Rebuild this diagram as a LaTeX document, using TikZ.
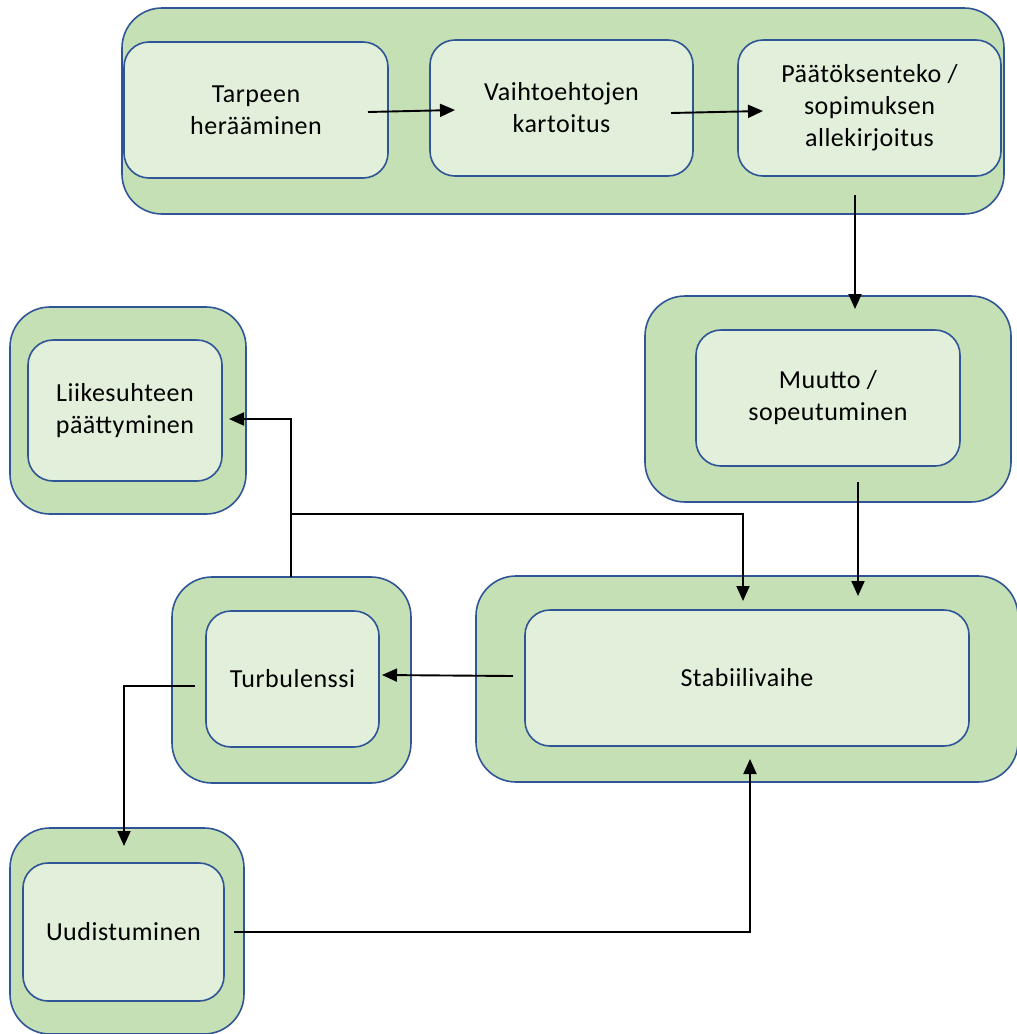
\documentclass[tikz,border=0pt]{standalone}
\usepackage{fontspec}
\setmainfont{Carlito}[LetterSpace=2]
\usetikzlibrary{arrows.meta}
\definecolor{outerfill}{HTML}{C5E0B4}
\definecolor{innerfill}{HTML}{E2EFDA}
\definecolor{edge}{HTML}{2F5597}
\begin{document}
\begin{tikzpicture}[x=1pt,y=-1pt,
  outerbox/.style={draw=edge, fill=outerfill, line width=1.6pt, rounded corners=40pt, inner sep=0pt},
  innerbox/.style={draw=edge, fill=innerfill, line width=1.6pt, rounded corners=25pt, inner sep=0pt, align=center, font=\fontsize{26}{32}\selectfont},
  conn/.style={line width=1.9pt, -{Triangle[length=15pt,width=13pt]}}]
\useasboundingbox (0,0) rectangle (1017,1034);
% top group
\node[outerbox, minimum width=882pt, minimum height=206pt] (top) at (563,111) {};
\node[innerbox, minimum width=264pt, minimum height=136pt] (tarve) at (256,110) {Tarpeen\\herääminen};
\node[innerbox, minimum width=263pt, minimum height=136pt] (vaiht) at (561.5,108) {Vaihtoehtojen\\kartoitus};
\node[innerbox, minimum width=263pt, minimum height=136pt] (paat) at (869.5,108) {Päätöksenteko /\\sopimuksen\\allekirjoitus};
% muutto
\node[outerbox, minimum width=366pt, minimum height=206pt] (muuttoO) at (828,399) {};
\node[innerbox, minimum width=264pt, minimum height=136pt] (muutto) at (828,398) {Muutto /\\sopeutuminen};
% liikesuhteen
\node[outerbox, minimum width=236pt, minimum height=207pt] (liikeO) at (128,410.5) {};
\node[innerbox, minimum width=194pt, minimum height=141pt] (liike) at (125,410.5) {Liikesuhteen\\päättyminen};
% stabiili
\node[outerbox, minimum width=542pt, minimum height=206pt] (stabO) at (747,679) {};
\node[innerbox, minimum width=444pt, minimum height=136pt] (stab) at (747,678) {Stabiilivaihe};
% turbulenssi
\node[outerbox, minimum width=239pt, minimum height=206pt] (turbO) at (291.5,680) {};
\node[innerbox, minimum width=173pt, minimum height=136pt] (turb) at (292.5,679) {Turbulenssi};
% uudistuminen
\node[outerbox, minimum width=234pt, minimum height=206pt] (uudO) at (127,931) {};
\node[innerbox, minimum width=201pt, minimum height=138pt] (uud) at (123.5,932) {Uudistuminen};
% connector end points
\coordinate (a1s) at (368,112); \coordinate (a1e) at (455,110);
\coordinate (a2s) at (671,113); \coordinate (a2e) at (763,111);
\coordinate (a3s) at (855,195); \coordinate (a3e) at (855,309);
\coordinate (a4s) at (858,482); \coordinate (a4e) at (858,596);
\coordinate (a5s) at (513,676); \coordinate (a5e) at (382,675);
\coordinate (a6s) at (291,577); \coordinate (a6k) at (291,419); \coordinate (a6e) at (229,419);
\coordinate (a7s) at (291,514); \coordinate (a7k) at (743,514); \coordinate (a7e) at (743,601);
\coordinate (a8s) at (195,686); \coordinate (a8k) at (124,686); \coordinate (a8e) at (124,846);
\coordinate (a9s) at (234,932); \coordinate (a9k) at (750,932); \coordinate (a9e) at (750,759);
\draw[conn] (a1s) -- (a1e);
\draw[conn] (a2s) -- (a2e);
\draw[conn] (a3s) -- (a3e);
\draw[conn] (a4s) -- (a4e);
\draw[conn] (a5s) -- (a5e);
\draw[conn] (a6s) -- (a6k) -- (a6e);
\draw[conn] (a7s) -- (a7k) -- (a7e);
\draw[conn] (a8s) -- (a8k) -- (a8e);
\draw[conn] (a9s) -- (a9k) -- (a9e);
\end{tikzpicture}
\end{document}
